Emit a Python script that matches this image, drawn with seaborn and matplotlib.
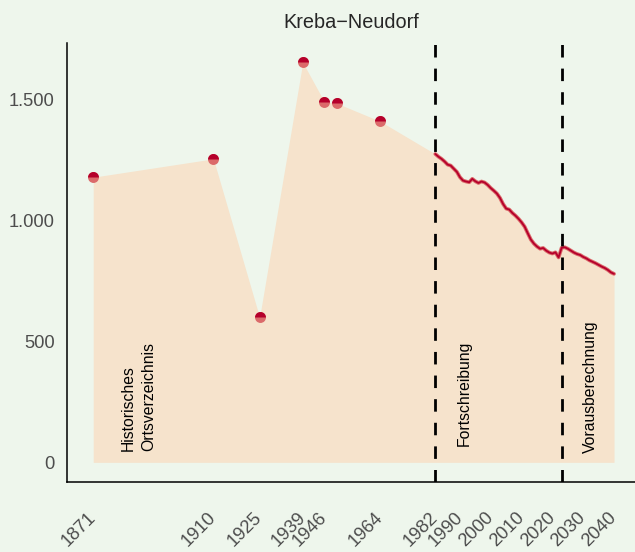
import matplotlib
matplotlib.use("Agg")
import matplotlib.pyplot as plt
import seaborn as sns
import pandas as pd
from matplotlib.markers import MarkerStyle
from matplotlib.ticker import FuncFormatter

# Historisches Ortsverzeichnis
hist_years = [1871, 1910, 1925, 1939, 1946, 1950, 1964]
hist_pop = [1180, 1256, 600, 1655, 1492, 1486, 1412]

# Fortschreibung
fort_years = list(range(1982, 2023))
fort_pop = [1276, 1265, 1256, 1245, 1232, 1228, 1215, 1202, 1180, 1166,
            1162, 1159, 1173, 1163, 1156, 1162, 1158, 1148, 1135, 1124,
            1112, 1094, 1069, 1050, 1046, 1032, 1021, 1008, 993, 975,
            948, 922, 905, 893, 884, 887, 876, 868, 864, 869, 848]

# Vorausberechnung
prog_years = list(range(2023, 2041))
prog_pop = [888, 890, 884, 876, 868, 862, 858, 850, 844, 836,
            830, 824, 817, 810, 804, 796, 786, 780]

x_ticks = [1871, 1910, 1925, 1939, 1946, 1964, 1982, 1990, 2000, 2010, 2020, 2030, 2040]
y_ticks = [0, 500, 1000, 1500]
breaks = [1982, 2023]
labels = [("Historisches\nOrtsverzeichnis", 1885.7, 45),
          ("Fortschreibung", 1991.5, 68),
          ("Vorausberechnung", 2032.3, 40)]

bg = "#EEF6EC"
area_col = "#F6E3CC"
dark_red = "#B5002B"
light_red = "#DB6A6A"

sns.set_style("white")
plt.rcParams['font.family'] = ['Liberation Sans', 'DejaVu Sans']

df_all = pd.DataFrame({"Jahr": hist_years + fort_years + prog_years,
                       "Einwohner": hist_pop + fort_pop + prog_pop})
df_line = pd.DataFrame({"Jahr": fort_years + prog_years,
                        "Einwohner": fort_pop + prog_pop})
df_hist = pd.DataFrame({"Jahr": hist_years, "Einwohner": hist_pop})

fig = plt.figure(figsize=(6.35, 5.52), dpi=100, facecolor=bg)
ax = fig.add_axes([0.106, 0.1274, 0.894, 0.7946])
ax.set_facecolor(bg)

ax.fill_between(df_all.Jahr, 0, df_all.Einwohner, color=area_col, lw=0, zorder=1)

sns.lineplot(data=df_line, x="Jahr", y="Einwohner", color=light_red, lw=2.7, ax=ax, zorder=3)
sns.lineplot(data=df_line, x="Jahr", y="Einwohner", color=dark_red, lw=1.3, ax=ax, zorder=4)

sns.scatterplot(data=df_hist, x="Jahr", y="Einwohner", color=light_red, s=62,
                linewidth=0, ax=ax, zorder=5)
sns.scatterplot(data=df_hist, x="Jahr", y="Einwohner", color=dark_red, s=62,
                marker=MarkerStyle('o', fillstyle='top'), linewidth=0, ax=ax, zorder=6)

for b in breaks:
    ax.axvline(b, color="black", lw=2, dashes=(4.5, 4), zorder=7)

for txt, xx, yy in labels:
    ax.text(xx, yy, txt, rotation=90, ha="center", va="bottom", fontsize=11.3,
            multialignment="left", linespacing=1.45, color="black", zorder=8)

ax.set_xlim(1862.6, 2046.8)
ax.set_ylim(-80, 1735)
ax.set_xticks(x_ticks)
ax.set_yticks(y_ticks)
ax.yaxis.set_major_formatter(FuncFormatter(lambda v, p: "{:,.0f}".format(v).replace(",", ".")))
ax.set_xlabel("")
ax.set_ylabel("")
ax.set_title("Kreba\u2212Neudorf", fontsize=14.3, pad=11)

for s in ["top", "right"]:
    ax.spines[s].set_visible(False)
for s in ["left", "bottom"]:
    ax.spines[s].set_color("black")
    ax.spines[s].set_linewidth(1.1)

ax.tick_params(axis="both", length=5.5, width=1.3, color="#333333",
               labelcolor="#4D4D4D", labelsize=13.2, pad=3.5)
ax.tick_params(axis="x", pad=18.5)
plt.setp(ax.get_xticklabels(), rotation=45, ha="right", va="center", rotation_mode="anchor")

fig.savefig("out.png", dpi=100, facecolor=bg)
